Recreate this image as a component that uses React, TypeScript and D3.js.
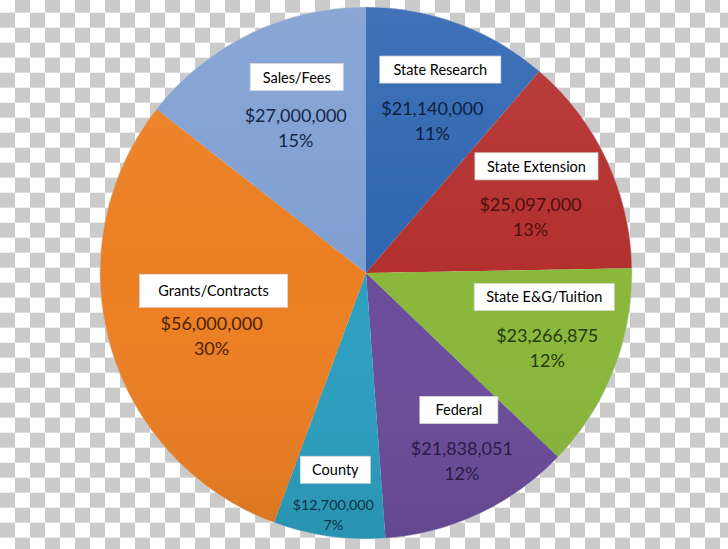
import React from "react";
import * as d3 from "d3";

const categories = ["State Research", "State Extension", "State E&G/Tuition", "Federal", "County", "Grants/Contracts", "Sales/Fees"];
const values = [21140000, 25097000, 23266875, 21838051, 12700000, 56000000, 27000000];
const valueLabels = ["$21,140,000", "$25,097,000", "$23,266,875", "$21,838,051", "$12,700,000", "$56,000,000", "$27,000,000"];
const percentLabels = ["11%", "13%", "12%", "12%", "7%", "30%", "15%"];

const sliceColors = ["#2f66b1", "#b3302e", "#89b83a", "#6b4c9a", "#2c9fc0", "#ec7f22", "#7f9fd2"];
const textColors = ["#0d1f3d", "#4d1010", "#263a0c", "#2b1a48", "#0b3245", "#4d2205", "#14264a"];
// label layout (fraction of radius along slice mid-angle, angle nudge in degrees)
const labelRadius = [0.67, 0.67, 0.72, 0.75, 0.88, 0.61, 0.65];
const labelAngleShift = [1.5, 2.5, -2.5, -3.5, 0, -2, 2];
const boxWidths = [121, 123, 140, 78, 70, 148, 93];
const boxHeights = [27, 27, 27, 27, 27, 33, 27];
const boxDx = [8, 6, -3, -3, 2, 2, 1];
const boxDy = [-38, -38, -38, -38, -35, -32, -38];
const pctDy = [25, 25, 25, 25, 20, 25, 25];
const valueFont = [18, 18, 18, 18, 14.3, 18, 18];

const W = 728;
const H = 549;
const CX = 366;
const CY = 273;
const R = 266;

export default function App() {
  const pie = d3.pie<number>().sort(null).value((d) => d)(values);
  const arc = d3.arc<d3.PieArcDatum<number>>().innerRadius(0).outerRadius(R);

  return (
    <svg width={W} height={H} style={{ position: "absolute", left: 0, top: 0 }} fontFamily="Lato, 'Open Sans', sans-serif">
      <defs>
        <pattern id="checker" patternUnits="userSpaceOnUse" x={0} y={-2.3} width={30} height={30}>
          <rect x={0} y={0} width={30} height={30} fill="#ffffff" />
          <rect x={15} y={0} width={15} height={15} fill="#cbcbcb" />
          <rect x={0} y={15} width={15} height={15} fill="#cbcbcb" />
        </pattern>
        <linearGradient id="shade" x1="0" y1="0" x2="0" y2="1">
          <stop offset="0" stopColor="#ffffff" stopOpacity={0.08} />
          <stop offset="0.5" stopColor="#ffffff" stopOpacity={0} />
          <stop offset="1" stopColor="#000000" stopOpacity={0.08} />
        </linearGradient>
      </defs>
      <rect x={0} y={0} width={W} height={H} fill="url(#checker)" />
      <g transform={`translate(${CX},${CY})`}>
        {pie.map((p, i) => (
          <path key={categories[i]} d={arc(p) || ""} fill={sliceColors[i]} />
        ))}
        <circle r={R} fill="url(#shade)" />
        <circle r={R} fill="none" stroke="#c8ccd4" strokeOpacity={0.5} strokeWidth={1} />
        {pie.map((p, i) => {
          const mid = (p.startAngle + p.endAngle) / 2 + (labelAngleShift[i] * Math.PI) / 180;
          const rr = R * labelRadius[i];
          const x = Math.sin(mid) * rr;
          const y = -Math.cos(mid) * rr;
          const bw = boxWidths[i];
          const bh = boxHeights[i];
          return (
            <g key={"l" + categories[i]} transform={`translate(${x},${y})`}>
              <rect x={boxDx[i] - bw / 2} y={boxDy[i] - bh / 2} width={bw} height={bh} fill="#ffffff" stroke="#d8d8d8" strokeWidth={0.8} />
              <text x={boxDx[i]} y={boxDy[i]} textAnchor="middle" dominantBaseline="central" fontSize={14.5} fill="#000000">
                {categories[i]}
              </text>
              <text x={0} y={0} textAnchor="middle" dominantBaseline="central" fontSize={valueFont[i]} fill={textColors[i]}>
                {valueLabels[i]}
              </text>
              <text x={0} y={pctDy[i]} textAnchor="middle" dominantBaseline="central" fontSize={valueFont[i]} fill={textColors[i]}>
                {percentLabels[i]}
              </text>
            </g>
          );
        })}
      </g>
    </svg>
  );
}
